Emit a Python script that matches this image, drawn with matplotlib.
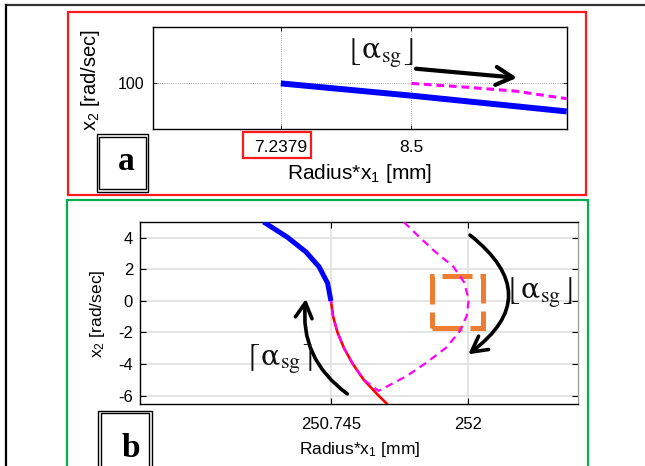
import matplotlib
matplotlib.use('Agg')
import matplotlib.pyplot as plt
from matplotlib.patches import Rectangle, FancyArrowPatch
from matplotlib.lines import Line2D
from matplotlib.offsetbox import TextArea, HPacker, AnnotationBbox

plt.rcParams['font.family'] = ['Liberation Sans', 'DejaVu Sans']
plt.rcParams['mathtext.fontset'] = 'stix'
plt.rcParams['axes.unicode_minus'] = False

# ---------------- data: panel a ----------------
a_xlim = (6.0, 10.0)
a_ylim = (91.0, 111.0)
a_xticks = [7.2379, 8.5]
a_xticklabels = ['7.2379', '8.5']
a_yticks = [100]
a_yticklabels = ['100']
a_blue_x = [7.2379, 8.5, 10.0]
a_blue_y = [100.0, 97.6, 94.5]
a_mag_x = [8.5, 9.0, 9.5, 10.0]
a_mag_y = [100.0, 99.3, 98.5, 97.0]

# ---------------- data: panel b ----------------
b_xlim = (249.0, 253.0)
b_ylim = (-6.5, 5.0)
b_xticks = [250.745, 252]
b_xticklabels = ['250.745', '252']
b_yticks = [-6, -4, -2, 0, 2, 4]
b_yticklabels = ['-6', '-4', '-2', '0', '2', '4']
b_blue_x = [250.13, 250.346, 250.517, 250.636, 250.714, 250.745]
b_blue_y = [5.0, 4.04, 3.10, 2.17, 1.13, 0.0]
b_red_x = [250.745, 250.765, 250.805, 250.865, 250.945, 251.045, 251.18, 251.254]
b_red_y = [0.0, -1.0, -2.0, -3.0, -4.0, -5.0, -6.0, -6.5]
b_mag_x = [251.41, 251.56, 251.70, 251.86, 251.96, 252.005, 251.985, 251.925,
           251.80, 251.62, 251.44, 251.18, 251.045, 250.945, 250.865, 250.805,
           250.765, 250.745]
b_mag_y = [5.0, 4.0, 3.1, 2.2, 1.2, 0.1, -0.95, -1.9, -2.95, -3.9, -4.75, -5.7,
           -5.0, -4.0, -3.0, -2.0, -1.0, 0.0]

W, H = 645, 466
fig = plt.figure(figsize=(W / 100, H / 100), dpi=100)


def fx(px):
    return px / W


def fy(py):
    return 1 - py / H


def frect(x0, y0, x1, y1, **kw):
    r = Rectangle((fx(x0), fy(y1)), fx(x1) - fx(x0), fy(y0) - fy(y1),
                  transform=fig.transFigure, fill=False, **kw)
    fig.add_artist(r)
    return r


def alpha_label(ax, x, y, left, right, bsize=21, asize=20.5, ssize=22.5):
    col = '#111111'
    props_b = dict(fontsize=bsize, math_fontfamily='stix', color=col)
    props_a = dict(fontsize=asize, math_fontfamily='dejavuserif', color=col)
    props_s = dict(fontsize=ssize, math_fontfamily='stix', color=col)
    box = HPacker(children=[TextArea(left, textprops=props_b),
                            TextArea(r'$\mathrm{\alpha}$', textprops=props_a),
                            TextArea(r'$_{\mathrm{sg}}$', textprops=props_s),
                            TextArea(right, textprops=props_b)],
                  align='baseline', pad=0, sep=0)
    ab = AnnotationBbox(box, (x, y), xycoords='data', frameon=False,
                        box_alignment=(0.5, 0.5), pad=0, zorder=7)
    ax.add_artist(ab)


# outer frame lines
fig.add_artist(Line2D([fx(6), fx(645)], [fy(5), fy(5)], transform=fig.transFigure,
                      color='#333333', lw=1.6))
fig.add_artist(Line2D([fx(6), fx(6)], [fy(5), fy(466)], transform=fig.transFigure,
                      color='black', lw=1.6))
# coloured panel frames
frect(68, 12, 586, 195, edgecolor='#ff1a1a', lw=1.6)
frect(67, 200, 588, 475, edgecolor='#00b050', lw=1.6)

# ---------------- panel a ----------------
axa = fig.add_axes([fx(152.7), fy(129.3), fx(566.7) - fx(152.7), fy(27.3) - fy(129.3)])
axa.plot(a_blue_x, a_blue_y, color='#0000ff', lw=4.3, solid_capstyle='butt', zorder=3)
axa.plot(a_mag_x, a_mag_y, color='#ff00ff', lw=2.2, dashes=(2.5, 1.6), zorder=3)
axa.set_xlim(*a_xlim)
axa.set_ylim(*a_ylim)
axa.set_xticks(a_xticks)
axa.set_xticklabels(a_xticklabels, fontsize=12.5)
axa.set_yticks(a_yticks)
axa.set_yticklabels(a_yticklabels, fontsize=11.5)
axa.tick_params(direction='in', length=3, width=0.6, top=True, right=True, pad=6)
axa.tick_params(axis='x', pad=8)
axa.grid(True, color='#888888', lw=0.6, ls=':')
for s in axa.spines.values():
    s.set_linewidth(1.0)
axa.set_xlabel(r'Radius*x$\mathregular{_1}$ [mm]', fontsize=15, va='center')
axa.xaxis.set_label_coords(0.5, -0.43)
axa.set_ylabel(r'x$\mathregular{_2}$ [rad/sec]', fontsize=14.5, va='center')
axa.yaxis.set_label_coords(-0.151, 0.483)
alpha_label(axa, 8.19, 106.0, r'$\lfloor$', r'$\rfloor$')
axa.add_patch(FancyArrowPatch((8.543, 102.88), (9.52, 101.1),
                              arrowstyle='->,head_length=12,head_width=6.5',
                              mutation_scale=1, lw=3, color='black',
                              shrinkA=0, shrinkB=0, zorder=4))
# red box around the 7.2379 label
frect(243, 132, 311, 158, edgecolor='#ff1a1a', lw=1.6)

# ---------------- panel b ----------------
axb = fig.add_axes([fx(140), fy(403.5), fx(577.7) - fx(140), fy(222) - fy(403.5)])
axb.plot(b_red_x, b_red_y, color='#ff0000', lw=1.9, zorder=3)
axb.plot(b_mag_x, b_mag_y, color='#ff00ff', lw=1.6, dashes=(3.5, 2.4), zorder=4)
axb.plot(b_blue_x, b_blue_y, color='#0000ff', lw=3.6, solid_capstyle='butt', zorder=5)
axb.set_xlim(*b_xlim)
axb.set_ylim(*b_ylim)
axb.set_xticks(b_xticks)
axb.set_xticklabels(b_xticklabels, fontsize=12)
axb.set_yticks(b_yticks)
axb.set_yticklabels(b_yticklabels, fontsize=12)
axb.tick_params(direction='in', length=4, width=0.8, top=True, right=True, pad=5)
axb.tick_params(axis='x', pad=10)
axb.grid(True, color='#e0e0e0', lw=1.2)
axb.set_axisbelow(True)
for s in axb.spines.values():
    s.set_linewidth(1.0)
axb.spines['right'].set_color('#a0a0a0')
axb.set_xlabel(r'Radius*x$\mathregular{_1}$ [mm]', fontsize=12.5, va='center')
axb.xaxis.set_label_coords(0.502, -0.256)
axb.set_ylabel(r'x$\mathregular{_2}$ [rad/sec]', fontsize=12.5, va='center')
axb.yaxis.set_label_coords(-0.097, 0.496)

axb.add_patch(Rectangle((251.671, -1.70), 0.466, 3.29, fill=False, edgecolor='#ed7d31',
                        lw=3.6, linestyle=(0, (6, 1.6)), joinstyle='miter', zorder=3))
alpha_label(axb, 252.64, 0.54, r'$\lfloor$', r'$\rfloor$')
alpha_label(axb, 250.265, -3.69, r'$\lceil$', r'$\rceil$')
axb.add_patch(FancyArrowPatch((252.016, 4.17), (252.0, -3.38),
                              connectionstyle='arc3,rad=-0.65',
                              arrowstyle='->,head_length=11,head_width=6',
                              mutation_scale=1, lw=2.6, color='black',
                              shrinkA=0, shrinkB=0, zorder=6))
axb.add_patch(FancyArrowPatch((250.894, -5.89), (250.516, 0.13),
                              connectionstyle='arc3,rad=-0.29',
                              arrowstyle='->,head_length=11,head_width=6',
                              mutation_scale=1, lw=2.6, color='black',
                              shrinkA=0, shrinkB=0, zorder=6))

# boxed panel letters
frect(96.7, 134.3, 148.3, 191.7, edgecolor='black', lw=1.0)
frect(99.3, 137, 145.7, 189, edgecolor='black', lw=1.0)
fig.text(fx(126.5), fy(170), 'a', fontsize=24, fontweight='bold', family='Liberation Serif',
         ha='center', va='baseline')
frect(98.3, 410.7, 151.7, 480, edgecolor='black', lw=1.0)
frect(101, 413.3, 149, 480, edgecolor='black', lw=1.0)
fig.text(fx(130.5), fy(456.7), 'b', fontsize=24, fontweight='bold', family='Liberation Serif',
         ha='center', va='baseline')

fig.savefig('out.png', dpi=100)
